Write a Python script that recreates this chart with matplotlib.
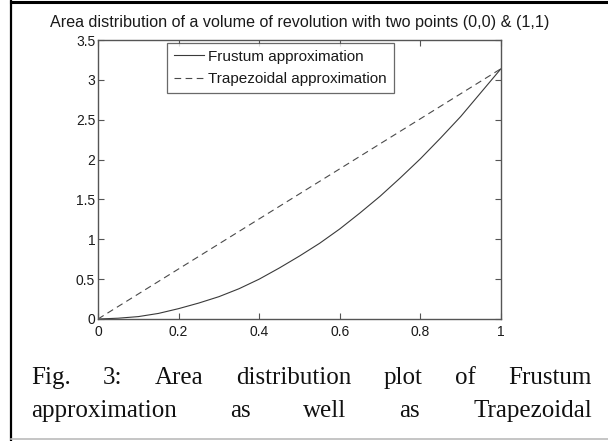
import matplotlib
matplotlib.use('Agg')
import matplotlib.pyplot as plt
from matplotlib.lines import Line2D

# valeurs
x_frustum = [0, 0.05, 0.1, 0.15, 0.2, 0.25, 0.3, 0.35, 0.4, 0.45, 0.5,
             0.55, 0.6, 0.65, 0.7, 0.75, 0.8, 0.85, 0.9, 0.95, 1]
y_frustum = [0, 0.01, 0.03, 0.07, 0.13, 0.2, 0.28, 0.38, 0.5, 0.64, 0.79,
             0.95, 1.13, 1.33, 1.54, 1.77, 2.01, 2.27, 2.54, 2.84, 3.14]
x_trap = [0, 1]
y_trap = [0, 3.14]

x_ticks = [0, 0.2, 0.4, 0.6, 0.8, 1]
x_ticklabels = ['0', '0.2', '0.4', '0.6', '0.8', '1']
y_ticks = [0, 0.5, 1, 1.5, 2, 2.5, 3, 3.5]
y_ticklabels = ['0', '0.5', '1', '1.5', '2', '2.5', '3', '3.5']

titre = 'Area distribution of a volume of revolution with two points (0,0) & (1,1)'
legendes = ['Frustum approximation', 'Trapezoidal approximation']
legende_fig = [['Fig.', '3:', 'Area', 'distribution', 'plot', 'of', 'Frustum'],
               ['approximation', 'as', 'well', 'as', 'Trapezoidal']]

W, H = 608, 441
fig = plt.figure(figsize=(W / 100, H / 100), dpi=100)
fig.patch.set_facecolor('white')

# axes en pixels: gauche 98, droite 501, haut 40, bas 319
ax = fig.add_axes([98 / W, 1 - 319 / H, 403 / W, 279 / H])
ax.plot(x_frustum, y_frustum, color='#3a3a3a', lw=0.8, label=legendes[0])
ax.plot(x_trap, y_trap, color='#4a4a4a', lw=0.8, dashes=(6, 4), label=legendes[1])
ax.set_xlim(0, 1)
ax.set_ylim(0, 3.5)
ax.set_xticks(x_ticks)
ax.set_xticklabels(x_ticklabels)
ax.set_yticks(y_ticks)
ax.set_yticklabels(y_ticklabels)
for s in ax.spines.values():
    s.set_color('#555555')
    s.set_linewidth(1.0)
ax.tick_params(direction='in', top=True, right=True, length=4, width=0.8,
               color='#555555', labelsize=10, labelcolor='#1a1a1a')
ax.tick_params(axis='x', pad=4)
ax.tick_params(axis='y', pad=2)
for t in ax.get_xticklabels() + ax.get_yticklabels():
    t.set_family('Liberation Sans')
ax.set_title(titre, fontsize=11.6, family='Liberation Sans', color='#1a1a1a', pad=9)

leg = ax.legend(loc='upper left', bbox_to_anchor=(0.171, 0.99), borderaxespad=0,
                prop={'family': 'Liberation Sans', 'size': 11}, fancybox=False,
                handlelength=2.0, handletextpad=0.27, labelspacing=0.55,
                borderpad=0.45)
leg.get_frame().set_edgecolor('#444444')
leg.get_frame().set_linewidth(0.9)
for t in leg.get_texts():
    t.set_color('#1a1a1a')

# legende de la figure, texte justifie
r = fig.canvas.get_renderer()
def ligne_justifiee(mots, y_base, x0, x1):
    textes = [fig.text(0, 1 - y_base / H, m, fontsize=18, family='Liberation Serif',
                       va='baseline', ha='left', color='#111111') for m in mots]
    larg = [t.get_window_extent(r).width for t in textes]
    ecart = (x1 - x0 - sum(larg)) / (len(mots) - 1)
    pos = x0
    for t, w in zip(textes, larg):
        t.set_x(pos / W)
        pos += w + ecart

ligne_justifiee(legende_fig[0], 384, 31, 592)
ligne_justifiee(legende_fig[1], 417, 31, 592)

# cadre
fig.add_artist(Line2D([11 / W, 1], [1 - 1.5 / H, 1 - 1.5 / H], color='black', lw=2.2))
fig.add_artist(Line2D([11 / W, 11 / W], [0, 1], color='black', lw=1.6))
fig.add_artist(Line2D([11 / W, 1], [1 - 439 / H, 1 - 439 / H], color='#bbbbbb', lw=1.2))

fig.savefig('out.png', dpi=100)
